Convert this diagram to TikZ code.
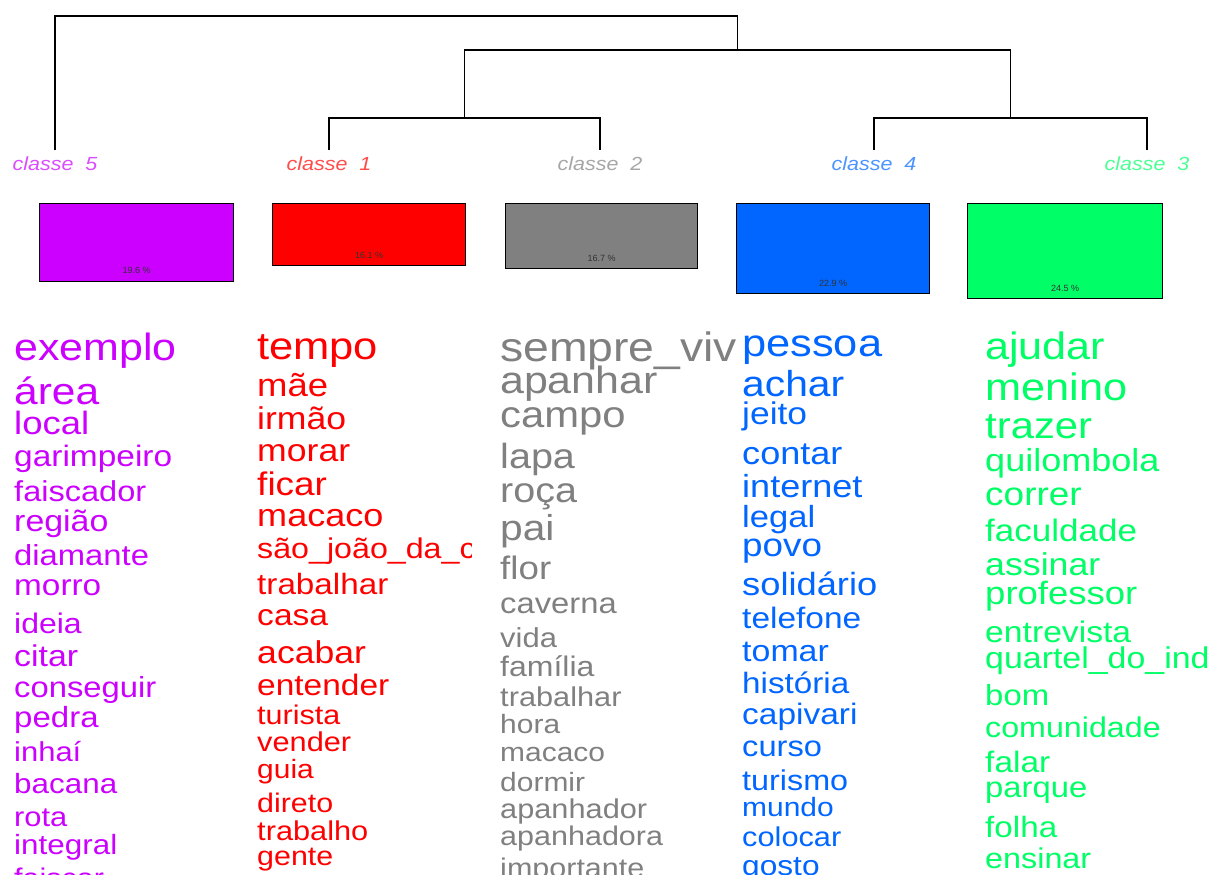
\documentclass[tikz,border=0pt]{standalone}
\usepackage{fontspec}
\setmainfont{Liberation Sans}
\definecolor{cl5}{HTML}{CC00FF}
\definecolor{cl1}{HTML}{FF0000}
\definecolor{cl2}{HTML}{808080}
\definecolor{cl4}{HTML}{0066FF}
\definecolor{cl3}{HTML}{00FF66}
\tikzset{
  branch/.style={line width=1.2pt},
  classlabel/.style={anchor=base, inner sep=0pt, xscale=1.13, font=\fontsize{19}{19}\selectfont\itshape},
  classbar/.style={draw=black, line width=1.2pt, anchor=north west, inner sep=0pt},
  pct/.style={inner sep=0pt, font=\fontsize{9}{9}\selectfont, text=black!80},
  word/.style={anchor=mid west, inner sep=0pt, xscale=1.13, yshift=-9pt}
}
\begin{document}
\begin{tikzpicture}[x=1pt, y=-1pt]
\path[use as bounding box, fill=white] (0,0) rectangle (1208,875);
\clip (0,0) rectangle (1208,875);
%tree
\coordinate (l5) at (55,150);
\coordinate (l1) at (329,150);
\coordinate (l2) at (600,150);
\coordinate (l4) at (874,150);
\coordinate (l3) at (1147,150);
\coordinate (j12) at (464.5,118);
\coordinate (j43) at (1010.5,118);
\coordinate (j1243) at (737.5,50);
\coordinate (root) at (396,16);
\draw[branch] (l1) |- (j12) -| (l2);
\draw[branch] (l4) |- (j43) -| (l3);
\draw[branch] (j12) |- (j1243) -| (j43);
\draw[branch] (l5) |- (root) -| (j1243);
%labels
\node[classlabel, text=cl5!70] (lab5) at (55,170) {classe~~5};
\node[classlabel, text=cl1!70] (lab1) at (329,170) {classe~~1};
\node[classlabel, text=cl2!70] (lab2) at (600,170) {classe~~2};
\node[classlabel, text=cl4!70] (lab4) at (874,170) {classe~~4};
\node[classlabel, text=cl3!70] (lab3) at (1147,170) {classe~~3};
%bars
\node[classbar, fill=cl5, minimum width=194, minimum height=78] (bar5) at (39,203) {};
\node[classbar, fill=cl1, minimum width=193, minimum height=62] (bar1) at (272,203) {};
\node[classbar, fill=cl2, minimum width=192, minimum height=65] (bar2) at (505,203) {};
\node[classbar, fill=cl4, minimum width=193, minimum height=90] (bar4) at (736,203) {};
\node[classbar, fill=cl3, minimum width=195, minimum height=95] (bar3) at (967,203) {};
\node[pct] (pct5) at ([yshift=12pt]bar5.south) {19.6 \%};
\node[pct] (pct1) at ([yshift=11pt]bar1.south) {16.1 \%};
\node[pct] (pct2) at ([yshift=11pt]bar2.south) {16.7 \%};
\node[pct] (pct4) at ([yshift=11pt]bar4.south) {22.9 \%};
\node[pct] (pct3) at ([yshift=11pt]bar3.south) {24.5 \%};
%words classe 5
\foreach \y/\s/\w in {349/38/exemplo, 393/37.6/área, 423/32.3/local, 455/29.6/garimpeiro,
  490/28.8/faiscador, 520/30/região, 554/29/diamante, 584/29.5/morro, 622/28.3/ideia,
  655/30/citar, 686/29/conseguir, 716/29.2/pedra, 750/27.4/inhaí, 782/27.8/bacana,
  815/27.3/rota, 843/27.8/integral, 876/27/faiscar}
\node[word, text=cl5, font=\fontsize{\s}{\s}\selectfont] (w5-\y) at (14,\y) {\w};
%words classe 1
\begin{scope}
\clip (257,320) rectangle (471,875);
\foreach \y/\s/\w in {348/38.5/tempo, 385/32.3/mãe, 418/31.5/irmão, 450/31.5/morar,
  484/32.7/ficar, 515/31.9/macaco, 547/28.5/são\_joão\_da\_c, 583/29.4/trabalhar,
  614/29.7/casa, 652/31.5/acabar, 684/29.6/entender, 713/27/turista, 740/27.2/vender,
  767/26.5/guia, 801/26.9/direto, 829/27.2/trabalho, 854/26.9/gente}
\node[word, text=cl1, font=\fontsize{\s}{\s}\selectfont] (w1-\y) at (257,\y) {\w};
\end{scope}
%words classe 2
\begin{scope}
\clip (500,320) rectangle (737,875);
\foreach \y/\s/\w in {350/41/sempre\_viv, 382/38/apanhar, 416/37/campo, 457/35/lapa,
  491/35/roça, 529/36/pai, 568/32.5/flor, 602/29/caverna, 636/27.4/vida, 665/28.3/família,
  695/27.2/trabalhar, 722/26.5/hora, 750/26.5/macaco, 780/26.5/dormir,
  807/27.2/apanhador, 834/27/apanhadora, 866/27/importante}
\node[word, text=cl2, font=\fontsize{\s}{\s}\selectfont] (w2-\y) at (500,\y) {\w};
\end{scope}
%words classe 4
\foreach \y/\s/\w in {345/38.4/pessoa, 385/36.1/achar, 413/31.3/jeito, 453/31.9/contar,
  486/31.9/internet, 516/30.6/legal, 545/32.6/povo, 584/32.1/solidário, 617/29.6/telefone,
  650/30/tomar, 682/29.4/história, 713/29.6/capivari, 745/28.9/curso, 779/28.6/turismo,
  805/26.5/mundo, 835/27.2/colocar, 864/28/gosto}
\node[word, text=cl4, font=\fontsize{\s}{\s}\selectfont] (w4-\y) at (742,\y) {\w};
%words classe 3
\foreach \y/\s/\w in {348/38.2/ajudar, 389/38.3/menino, 427/37/trazer, 460/31.9/quilombola,
  494/32.7/correr, 530/31/faculdade, 564/31.6/assinar, 593/32.3/professor,
  631/29.8/entrevista, 657/30/quartel\_do\_ind, 694/29.1/bom, 726/28.5/comunidade,
  761/29.6/falar, 786/29/parque, 826/29.4/folha, 857/28.6/ensinar}
\node[word, text=cl3, font=\fontsize{\s}{\s}\selectfont] (w3-\y) at (985,\y) {\w};
\end{tikzpicture}
\end{document}
